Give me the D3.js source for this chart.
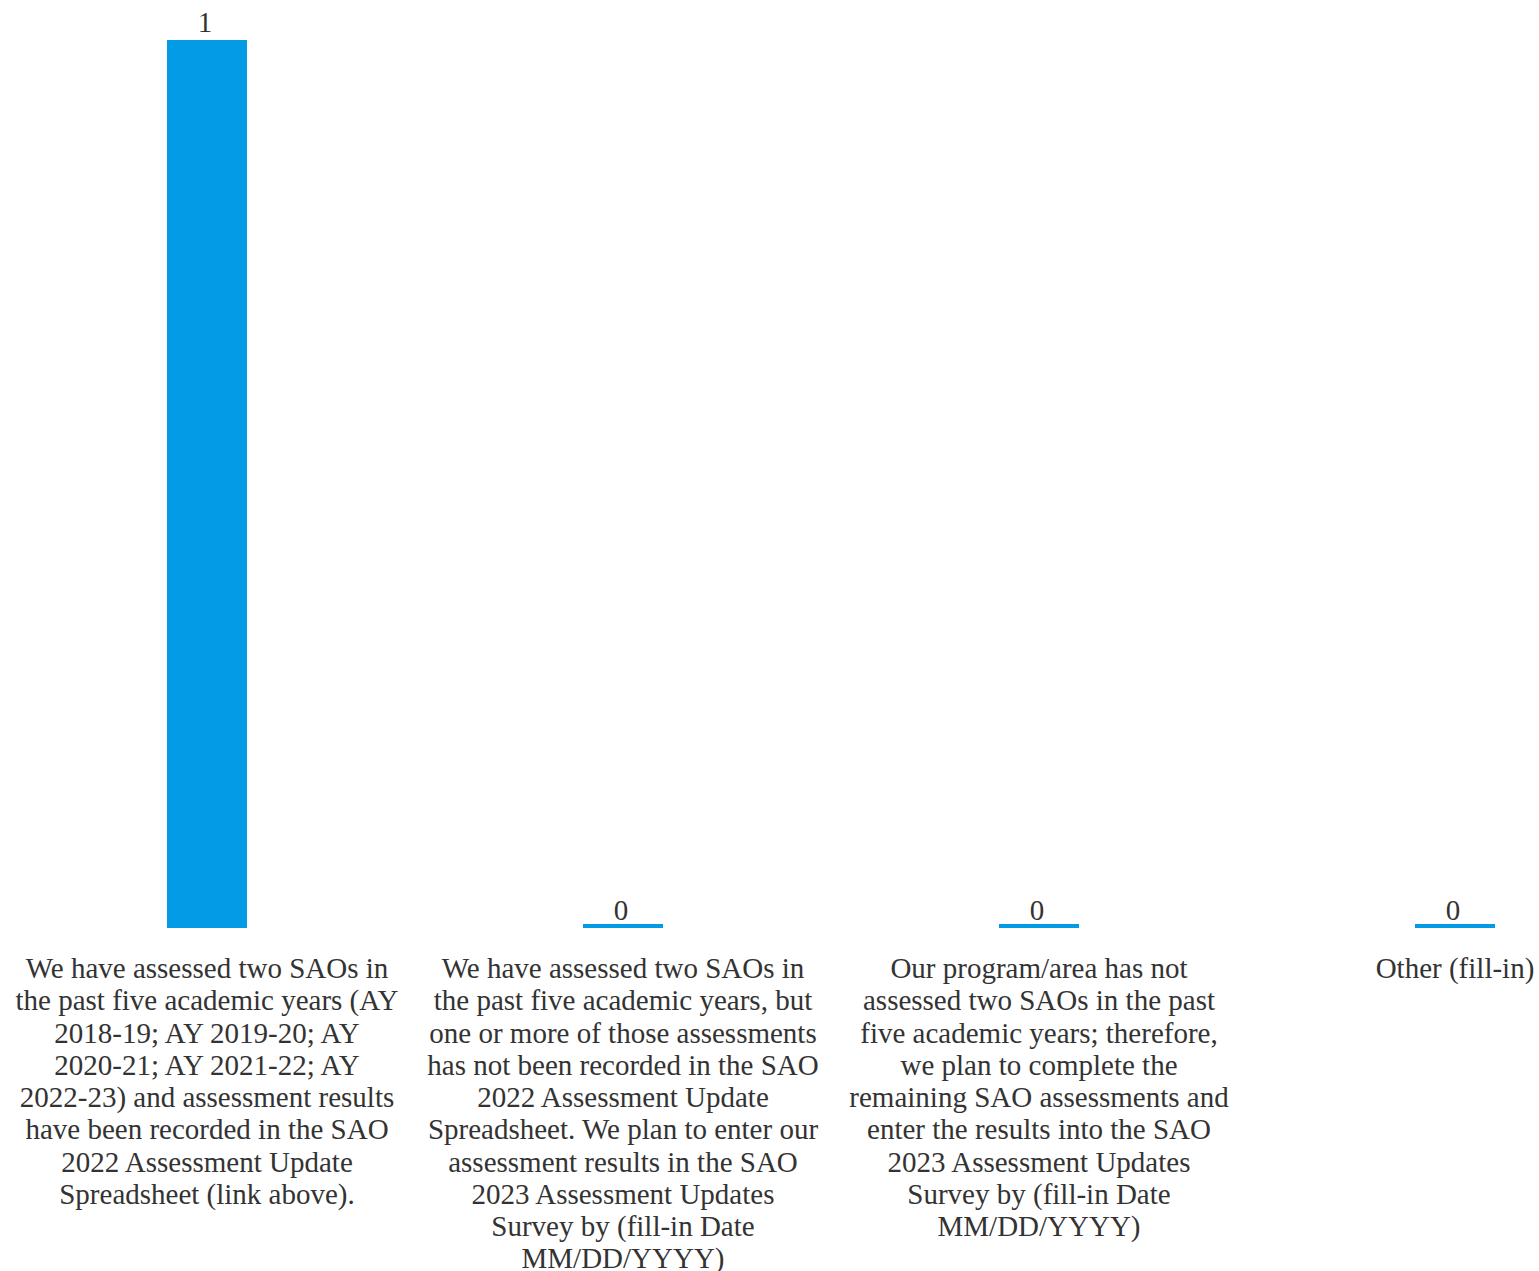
<!DOCTYPE html>
<html>
<head>
<meta charset="utf-8">
<script src="https://cdn.jsdelivr.net/npm/d3@7"></script>
<style>
  html, body { margin: 0; padding: 0; background: #ffffff; }
  svg { display: block; }
  text { font-family: "Liberation Serif", "Times New Roman", serif; fill: #333333; }
</style>
</head>
<body>
<svg id="chart" width="1539" height="1271"></svg>
<script>
// Response categories (wrapped into display lines) and their counts
const categories = [
  ["We have assessed two SAOs in", "the past five academic years (AY", "2018-19; AY 2019-20; AY", "2020-21; AY 2021-22; AY", "2022-23) and assessment results", "have been recorded in the SAO", "2022 Assessment Update", "Spreadsheet (link above)."],
  ["We have assessed two SAOs in", "the past five academic years, but", "one or more of those assessments", "has not been recorded in the SAO", "2022 Assessment Update", "Spreadsheet. We plan to enter our", "assessment results in the SAO", "2023 Assessment Updates", "Survey by (fill-in Date", "MM/DD/YYYY)"],
  ["Our program/area has not", "assessed two SAOs in the past", "five academic years; therefore,", "we plan to complete the", "remaining SAO assessments and", "enter the results into the SAO", "2023 Assessment Updates", "Survey by (fill-in Date", "MM/DD/YYYY)"],
  ["Other (fill-in)"]
];
const counts = [1, 0, 0, 0];

const svg = d3.select("#chart");
const barColor = "#039be5";
const barWidth = 80;
const minBarHeight = 4;
const fontSize = 29;

const x = d3.scaleBand()
  .domain(d3.range(categories.length))
  .range([-1, 1663])
  .padding(0);

const y = d3.scaleLinear()
  .domain([0, d3.max(counts)])
  .range([928, 40]);

const cx = i => x(i) + x.bandwidth() / 2;

// Bars (zero values still shown as a thin strip)
svg.append("g").selectAll("rect")
  .data(counts)
  .join("rect")
  .attr("x", (d, i) => cx(i) - barWidth / 2)
  .attr("width", barWidth)
  .attr("y", d => Math.min(y(d), y(0) - minBarHeight))
  .attr("height", d => Math.max(y(0) - y(d), minBarHeight))
  .attr("fill", barColor);

// Value labels above bars
svg.append("g").selectAll("text")
  .data(counts)
  .join("text")
  .attr("x", (d, i) => cx(i) - 2)
  .attr("y", d => y(d) - 8)
  .attr("text-anchor", "middle")
  .attr("font-size", fontSize)
  .text(d => d);

// Category labels below the baseline
const lineHeight = 32.25;
svg.append("g").selectAll("text")
  .data(categories)
  .join("text")
  .attr("x", (d, i) => cx(i))
  .attr("y", 978)
  .attr("text-anchor", "middle")
  .attr("font-size", fontSize)
  .each(function(lines, i) {
    d3.select(this).selectAll("tspan")
      .data(lines)
      .join("tspan")
      .attr("x", cx(i))
      .attr("dy", (l, j) => j === 0 ? 0 : lineHeight)
      .text(l => l);
  });
</script>
</body>
</html>
